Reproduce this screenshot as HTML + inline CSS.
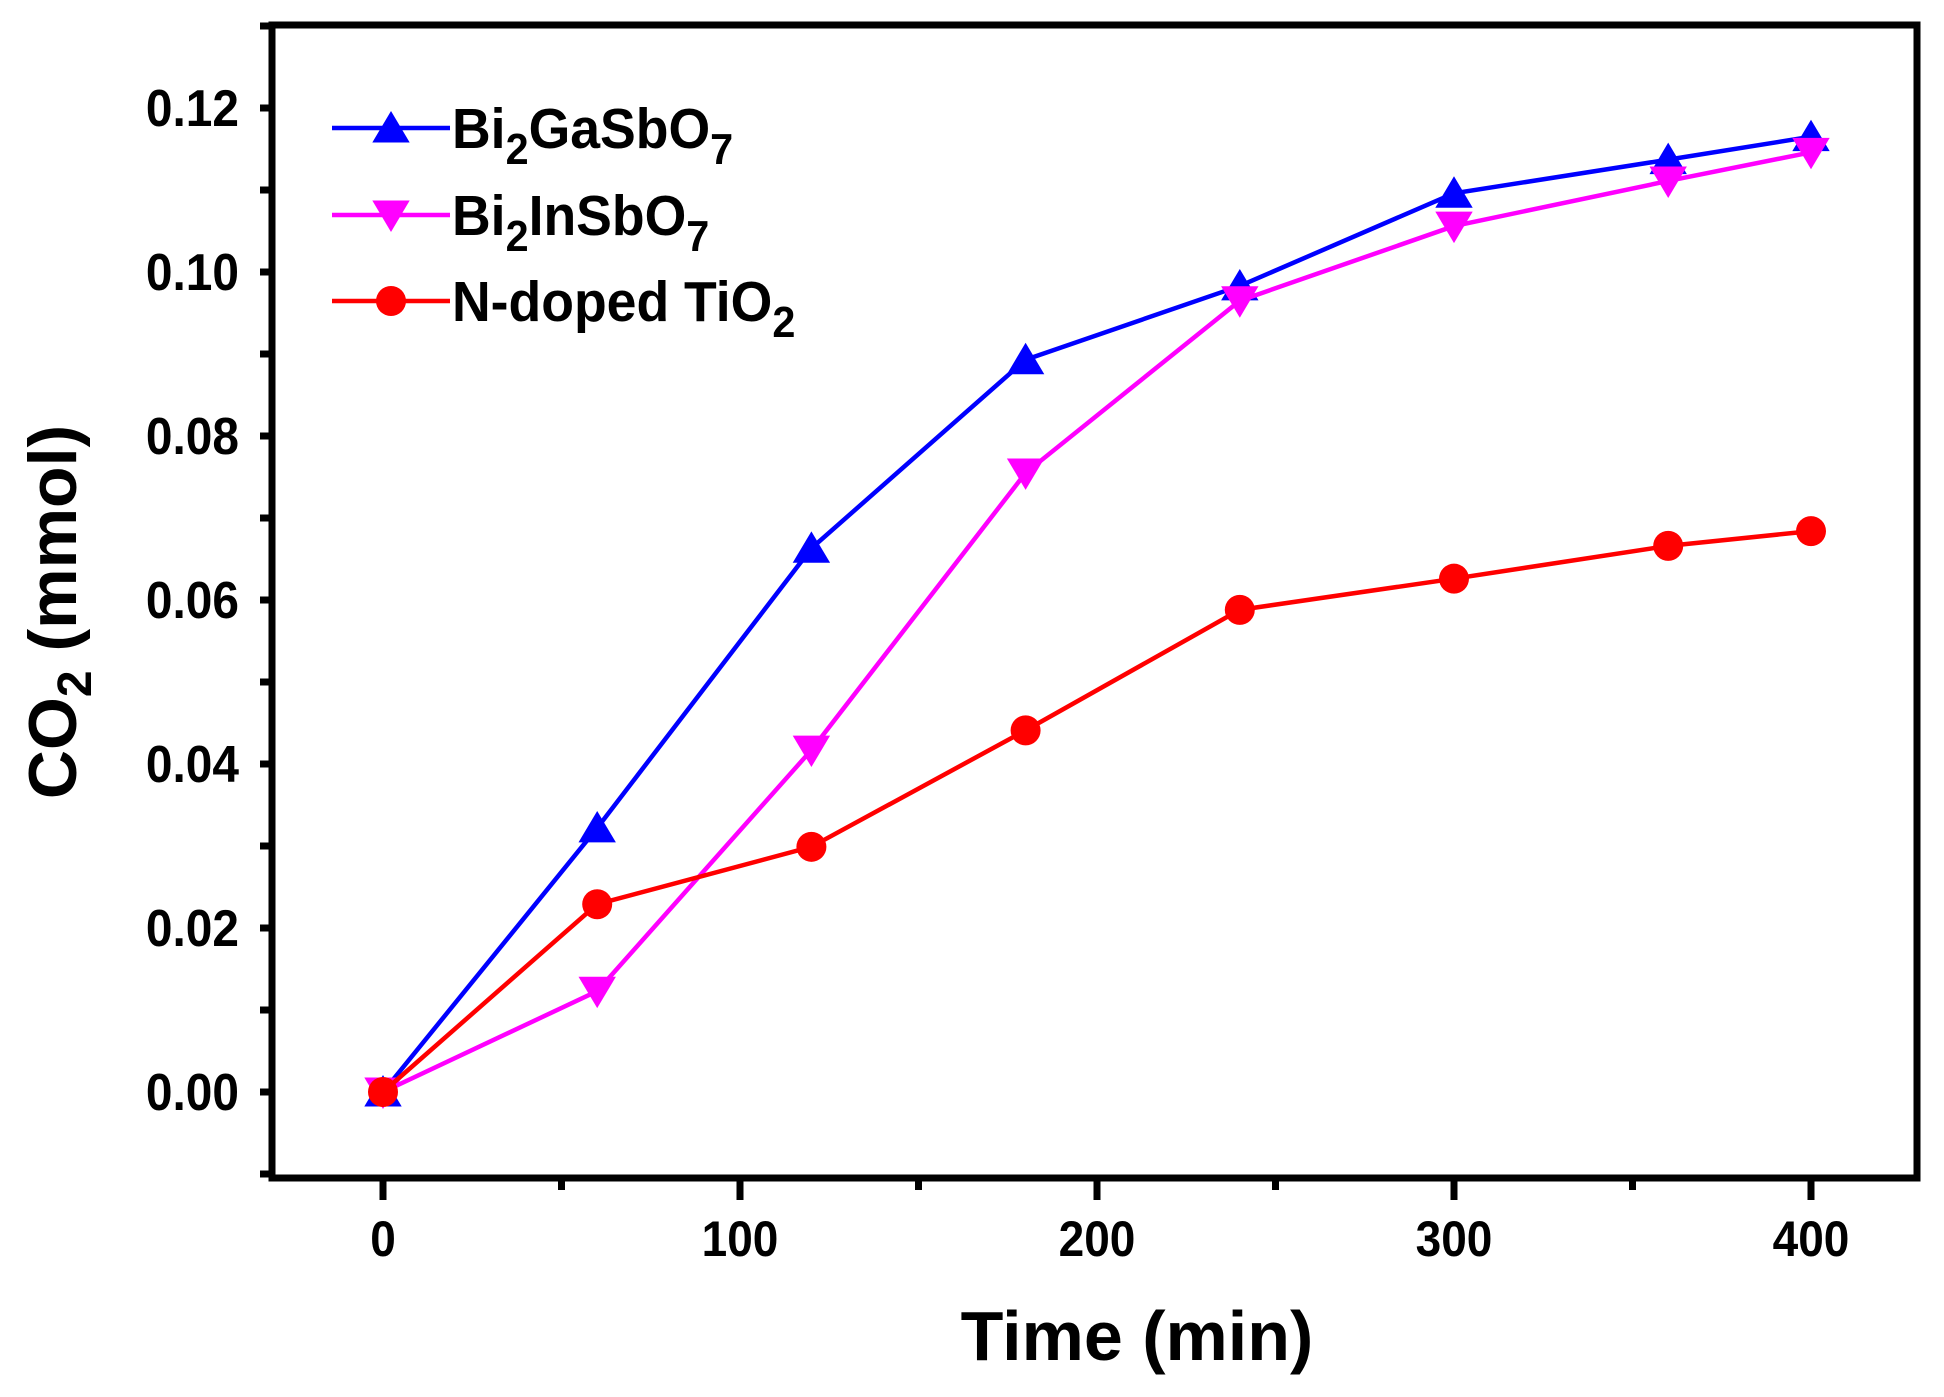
<!DOCTYPE html>
<html><head><meta charset="utf-8"><style>
html,body{margin:0;padding:0;background:#fff}
svg{display:block;font-family:"Liberation Sans",Arial,sans-serif;font-weight:bold}
</style></head><body>
<svg id="chart" width="1944" height="1397" viewBox="0 0 1944 1397" xmlns="http://www.w3.org/2000/svg">
<g id="plot"></g>
</svg>
<script>
const times = [0, 60, 120, 180, 240, 300, 360, 400];
const bi2gasbo7 = [0, 0.0322, 0.0663, 0.0893, 0.0983, 0.1096, 0.1137, 0.1165];
const bi2insbo7 = [0, 0.0123, 0.0417, 0.0755, 0.0965, 0.1056, 0.1111, 0.1146];
const ntio2 = [0, 0.0229, 0.0299, 0.0441, 0.0588, 0.0626, 0.0666, 0.0684];
const xTicks = [0, 100, 200, 300, 400];
const xMinor = [50, 150, 250, 350];
const yTicks = [0, 0.02, 0.04, 0.06, 0.08, 0.10, 0.12];
const yTickLabels = ["0.00","0.02","0.04","0.06","0.08","0.10","0.12"];
const yMinor = [-0.01, 0.01, 0.03, 0.05, 0.07, 0.09, 0.11, 0.13];

const L=272,R=1917,T=25,B=1178;
function xs(v){return 383+v*3.57;}
function ys(v){return 1092-v*8200;}
const NS="http://www.w3.org/2000/svg";
const g=document.getElementById('plot');
function mk(tag,attrs,parent){const e=document.createElementNS(NS,tag);for(const k in attrs)e.setAttribute(k,attrs[k]);(parent||g).appendChild(e);return e;}

let fr=mk('rect',{x:L,y:T,width:R-L,height:B-T,fill:'none',stroke:'#000','stroke-width':7});



xTicks.forEach((v,i)=>{
  let t=mk('line',{x1:xs(v),x2:xs(v),y1:B,y2:B+22,stroke:'#000','stroke-width':7});
  
  
  let tx=mk('text',{x:xs(v),y:1256,'text-anchor':'middle','font-size':50,transform:`translate(${xs(v)},0) scale(0.92,1) translate(${-xs(v)},0)`});
  tx.textContent=String(v);
  
  
});
xMinor.forEach(v=>{
  let t=mk('line',{x1:xs(v),x2:xs(v),y1:B,y2:B+12,stroke:'#000','stroke-width':7});
  
  
});
yTicks.forEach((v,i)=>{
  let t=mk('line',{x1:L-12,x2:L,y1:ys(v),y2:ys(v),stroke:'#000','stroke-width':7});
  
  
  let tx=mk('text',{x:239,y:ys(v)+18,'text-anchor':'end','font-size':52,transform:'translate(239,0) scale(0.92,1) translate(-239,0)'});
  tx.textContent=yTickLabels[i];
  
  
});
yMinor.forEach(v=>{
  let t=mk('line',{x1:L-12,x2:L,y1:ys(v),y2:ys(v),stroke:'#000','stroke-width':7});
  
  
});

let xt=mk('text',{x:1137,y:1360,'text-anchor':'middle','font-size':70});
xt.textContent='Time (min)';


let yt=mk('text',{transform:'translate(76,612) rotate(-90)','text-anchor':'middle','font-size':68});
yt.innerHTML='CO<tspan dy="15" font-size="48">2</tspan><tspan dy="-15"> (mmol)</tspan>';



function tri(cx,cy,up,color,parent){
  const s=17;
  const pts=up?`${cx},${cy-s} ${cx-s*1.1},${cy+s*0.85} ${cx+s*1.1},${cy+s*0.85}`:`${cx},${cy+s} ${cx-s*1.1},${cy-s*0.85} ${cx+s*1.1},${cy-s*0.85}`;
  return mk('polygon',{points:pts,fill:color},parent);
}
const series=[
 {name:'bi2gasbo7',vals:bi2gasbo7,color:'#0000ff',m:'up'},
 {name:'bi2insbo7',vals:bi2insbo7,color:'#ff00ff',m:'down'},
 {name:'n-doped-tio2',vals:ntio2,color:'#ff0000',m:'circle'}
];
series.forEach(s=>{
  const sg=mk('g',{});
  
  
  const pl=mk('polyline',{points:times.map((t,i)=>xs(t)+','+ys(s.vals[i])).join(' '),fill:'none',stroke:s.color,'stroke-width':4.5},sg);
  
  
  times.forEach((t,i)=>{
    let m;
    if(s.m==='circle') m=mk('circle',{cx:xs(t),cy:ys(s.vals[i]),r:15,fill:s.color},sg);
    else m=tri(xs(t),ys(s.vals[i]),s.m==='up',s.color,sg);
    
    
  });
});

const legend=[
 {label:'Bi<tspan dy="16" font-size="44">2</tspan><tspan dy="-16">GaSbO</tspan><tspan dy="16" font-size="44">7</tspan>',color:'#0000ff',m:'up',y:128},
 {label:'Bi<tspan dy="16" font-size="44">2</tspan><tspan dy="-16">InSbO</tspan><tspan dy="16" font-size="44">7</tspan>',color:'#ff00ff',m:'down',y:215},
 {label:'N-doped TiO<tspan dy="16" font-size="44">2</tspan>',color:'#ff0000',m:'circle',y:301}
];
legend.forEach(e=>{
  const lg=mk('g',{});
  
  
  mk('line',{x1:332,x2:450,y1:e.y,y2:e.y,stroke:e.color,'stroke-width':4.5},lg);
  if(e.m==='circle') mk('circle',{cx:391,cy:e.y,r:15,fill:e.color},lg);
  else tri(391,e.y,e.m==='up',e.color,lg);
  const t=mk('text',{x:452,y:e.y+20,'font-size':57,transform:'translate(452,0) scale(0.94,1) translate(-452,0)'},lg);
  t.innerHTML=e.label;
});
</script>
</body></html>
